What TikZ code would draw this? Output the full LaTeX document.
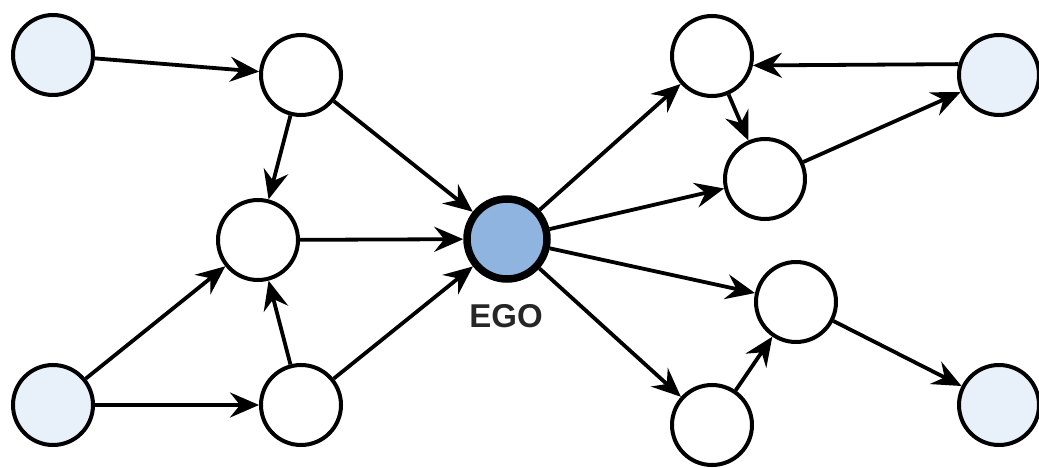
\documentclass[tikz,border=0pt]{standalone}
\usepackage{fontspec}
\setmainfont{Liberation Sans}
\usetikzlibrary{arrows.meta}
\definecolor{outerblue}{HTML}{E8F0FA}
\definecolor{egoblue}{HTML}{8FB4E0}
\begin{document}
\begin{tikzpicture}[x=1pt,y=1pt,
  nd/.style={circle, draw=black, line width=4pt, minimum size=80pt, inner sep=0pt, fill=white},
  outer/.style={nd, fill=outerblue},
  ego/.style={nd, fill=egoblue, line width=7.5pt},
  arr/.style={-{Stealth[length=29pt,width=25pt,inset=10pt]}, line width=3.8pt},
  lbl/.style={font=\bfseries\fontsize{33}{33}\selectfont, text=black!85}]
\useasboundingbox (0,0) rectangle (1039,-468);
% left side
\node[outer] (A) at (53,-55) {};
\node[nd] (B) at (301,-75) {};
\node[nd] (C) at (258,-240) {};
\node[outer] (D) at (53,-405) {};
\node[nd] (E) at (301,-405) {};
% ego
\node[ego] (EGO) at (507,-239) {};
\node[lbl] (EGOl) at (506,-316) {EGO};
% right side
\node[nd] (F) at (712,-56) {};
\node[nd] (G) at (765,-179) {};
\node[outer] (H) at (999,-75) {};
\node[nd] (I) at (796,-302) {};
\node[nd] (J) at (712,-425) {};
\node[outer] (K) at (999,-405) {};
% edges
\draw[arr] (A) -- (B);
\draw[arr] (B) -- (C);
\draw[arr] (B) -- (EGO);
\draw[arr] (C) -- (EGO);
\draw[arr] (D) -- (C);
\draw[arr] (D) -- (E);
\draw[arr] (E) -- (C);
\draw[arr] (E) -- (EGO);
\draw[arr] (EGO) -- (F);
\draw[arr] (EGO) -- (G);
\draw[arr] (EGO) -- (I);
\draw[arr] (EGO) -- (J);
\draw[arr] (H.165) -- (F.347);
\draw[arr] (F) -- (G);
\draw[arr] (G) -- (H);
\draw[arr] (J) -- (I);
\draw[arr] (I) -- (K);
\end{tikzpicture}
\end{document}
